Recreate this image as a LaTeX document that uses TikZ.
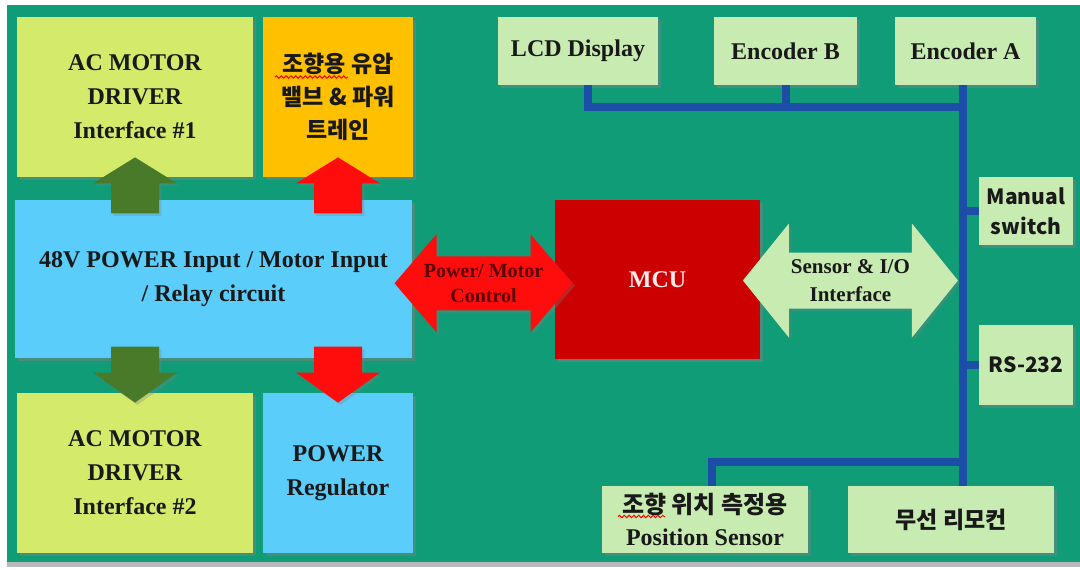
\documentclass[tikz,border=0pt]{standalone}
\usepackage{fontspec}
\setmainfont{Liberation Serif}
\newfontfamily\kr{Noto Sans CJK KR}
\usepackage{xcolor}
\usepackage{tikz}
\usetikzlibrary{calc,shadows,decorations.pathmorphing}

\definecolor{bggreen}{RGB}{17,156,120}
\definecolor{ygreen}{RGB}{212,234,107}
\definecolor{orangebox}{RGB}{255,192,0}
\definecolor{skyblue}{RGB}{90,205,250}
\definecolor{mcured}{RGB}{204,0,0}
\definecolor{paleg}{RGB}{200,235,178}
\definecolor{busblue}{RGB}{28,78,168}
\definecolor{darkg}{RGB}{72,122,42}
\definecolor{brightred}{RGB}{255,12,12}

% block arrow with two heads: [style] {centre} {half length} {half shaft} {half head} {head length}
\newcommand{\dblarrow}[6][]{%
  \fill[#1] ($#2+(-#3,0)$) -- ++(#6,-#5) -- ++(0,#5-#4) -- ($#2+(#3-#6,-#4)$)
    -- ++(0,#4-#5) -- ($#2+(#3,0)$) -- ++(-#6,#5) -- ++(0,#4-#5)
    -- ($#2+(#6-#3,#4)$) -- ++(0,#5-#4) -- cycle;}

\begin{document}
\begin{tikzpicture}[x=0.5pt, y=-0.5pt, font=\bfseries,
  blk/.style={inner sep=0pt, align=center, text=black!90,
    drop shadow={shadow xshift=1.6pt, shadow yshift=-1.6pt, opacity=0.45}},
  big/.style={font=\bfseries\fontsize{12}{17}\selectfont},
  small/.style={font=\bfseries\fontsize{12}{16}\selectfont},
  korean/.style={font=\kr\bfseries\fontsize{11.5}{16.5}\selectfont},
  gulim/.style={font=\kr\bfseries\fontsize{10.5}{15}\selectfont},
  bus/.style={draw=busblue, line width=4pt},
  arr/.style={drop shadow={shadow xshift=1.2pt, shadow yshift=-1.2pt, opacity=0.3}},
  squiggle/.style={draw=red, line width=0.5pt, decorate,
    decoration={snake, amplitude=0.6pt, segment length=2.4pt}}]
\useasboundingbox (0,0) rectangle (1080,569);
% backdrop
\fill[white] (0,0) rectangle (1080,569);
\fill[gray!55] (7,560) rectangle (1080,567);
\fill[bggreen] (7,5) rectangle (1080,562);

% left column
\node[blk, big, fill=ygreen, minimum width=118pt, minimum height=80pt] (drv1) at (135,97) {AC MOTOR\\DRIVER\\Interface \#1};
\node[blk, korean, fill=orangebox, minimum width=75pt, minimum height=80pt] (valve) at (338,97) {조향용 유압\\밸브 \& 파워\\트레인};
\node[blk, big, fill=skyblue, minimum width=198.5pt, minimum height=79pt] (power) at (213.5,279) {48V POWER Input / Motor Input\\/ Relay circuit};
\node[blk, big, fill=ygreen, minimum width=118pt, minimum height=80pt] (drv2) at (135,473) {AC MOTOR\\DRIVER\\Interface \#2};
\node[blk, big, fill=skyblue, minimum width=75pt, minimum height=80pt] (reg) at (338,473) {POWER\\Regulator};

% controller
\node[blk, fill=mcured, text=red!8, font=\bfseries\fontsize{12}{14}\selectfont, minimum width=102.5pt, minimum height=79.5pt] (mcu) at (657.5,279.5) {MCU};

% peripherals
\foreach \name/\x/\w/\txt in {lcd/578/80/LCD Display, encB/785.5/71.5/Encoder B, encA/965.5/70.5/Encoder A}
  \node[blk, small, fill=paleg, minimum width=\w pt, minimum height=34pt] (\name) at (\x,51) {\txt};
\node[blk, gulim, fill=paleg, minimum width=47pt, minimum height=34pt] (manual) at (1026,211) {Manual\\switch};
\node[blk, gulim, fill=paleg, minimum width=47pt, minimum height=40pt] (rs) at (1026,365) {RS-232};
\node[blk, small, fill=paleg, minimum width=103pt, minimum height=33.5pt] (possens) at (705,519.5) {{\kr\bfseries 조향 위치 측정용}\\Position Sensor};
\node[blk, korean, fill=paleg, minimum width=103pt, minimum height=33.5pt] (remote) at (951,519.5) {무선 리모컨};

% spell-check marks
\draw[squiggle] ($(valve.center)+(-63,-20)$) -- ++(73,0);
\draw[squiggle] ($(possens.center)+(-87,-3)$) -- ++(47,0);

% bus lines
\coordinate (jL) at (588,107);
\coordinate (jR) at (963,107);
\coordinate (jB) at (712,462);
\draw[bus] (lcd.south -| jL) -- (jL) -- (jR);
\draw[bus] (encB.south) -- (encB.south |- jL);
\draw[bus] (encA.south -| jR) -- (jR |- remote.north);
\draw[bus] (manual.west) -- (manual.west -| jR);
\draw[bus] (rs.west) -- (rs.west -| jR);
\draw[bus] (possens.north -| jB) -- (jB) -- (jB -| jR);

% power arrows up and down
\foreach \n/\c in {drv1/darkg, valve/brightred}
  \fill[arr, \c] ($(\n.south)+(-24,36)$) -- ++(0,-30) -- ++(-18,0) -- ++(42,-26)
    -- ++(42,26) -- ++(-18,0) -- ++(0,30) -- cycle;
\foreach \n/\c in {drv2/darkg, reg/brightred}
  \fill[arr, \c] ($(\n.north)+(-24,-46)$) -- ++(0,26) -- ++(-18,0) -- ++(42,30)
    -- ++(42,-30) -- ++(-18,0) -- ++(0,-26) -- cycle;

% double arrows
\coordinate (pm) at ($(power.east)!0.5!(mcu.west)+(0,4)$);
\dblarrow[arr, brightred]{(pm)}{89}{27}{49}{42}
\node[font=\bfseries\fontsize{10}{12.5}\selectfont, text=red!35!black, align=center] (pmtxt) at (pm) {Power/ Motor\\Control};
\coordinate (sio) at ($(mcu.east)+(90,1)$);
\dblarrow[arr, paleg]{(sio)}{107.5}{28}{57}{46}
\node[font=\bfseries\fontsize{10.5}{14}\selectfont, text=black!90, align=center] (siotxt) at (sio) {Sensor \& I/O\\Interface};
\end{tikzpicture}
\end{document}
